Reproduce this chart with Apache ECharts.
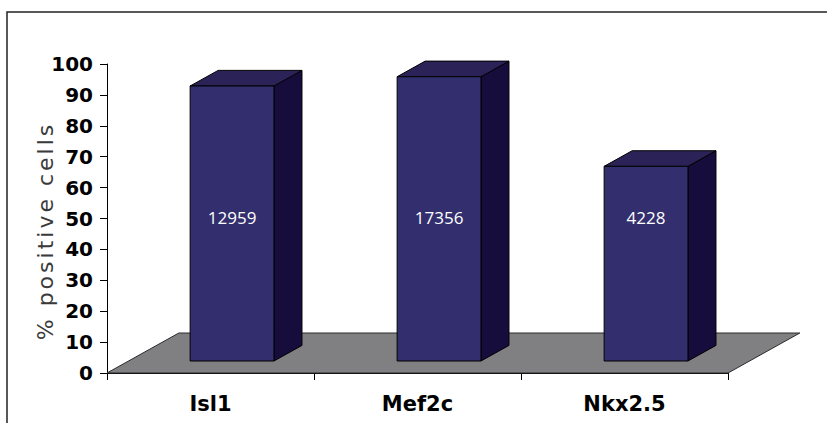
<!DOCTYPE html>
<html>
<head>
<meta charset="utf-8">
<script src="https://cdn.jsdelivr.net/npm/echarts@6/dist/echarts.min.js"></script>
<style>
  html, body { margin: 0; padding: 0; background: #ffffff; }
  #chart { width: 827px; height: 423px; }
  /* Excel-style letter spaced axis title */
  #chart text[style*="Verdana"] { letter-spacing: 3px; }
</style>
</head>
<body>
<div id="chart"></div>
<script>
// ---- data ----
const categories = ['Isl1', 'Mef2c', 'Nkx2.5'];
const percentPositive = [89, 92, 63];
const cellCounts = ['12959', '17356', '4228'];
const yMin = 0;
const yMax = 100;
const yInterval = 10;
const yTitle = '% positive cells';

// ---- chart ----
const chart = echarts.init(document.getElementById('chart'), null, { renderer: 'svg' });

const FRONT = 0.30, BACK = 0.69;   // bar position inside floor depth
const DEPTH_X_RATIO = 0.347;       // floor depth relative to band width
const DEPTH_Y = 40;

function floorItem(params, api) {
  const cs = params.coordSys;
  const band = api.size([1, 0])[0];
  const dx = band * DEPTH_X_RATIO;
  const x0 = cs.x, y0 = cs.y + cs.height, w = cs.width;
  return {
    type: 'polygon',
    shape: { points: [[x0, y0], [x0 + w, y0], [x0 + w + dx, y0 - DEPTH_Y], [x0 + dx, y0 - DEPTH_Y]] },
    style: { fill: '#808083', stroke: '#2a2a2a', lineWidth: 1 }
  };
}

function barItem(params, api) {
  const idx = api.value(0);
  const v = api.value(1);
  const base = api.coord([idx, 0]);
  const top = api.coord([idx, v]);
  const mid = api.coord([idx, 50]);
  const band = api.size([1, 0])[0];
  const dX = band * DEPTH_X_RATIO;
  const fw = band * 0.405;
  const cx = base[0] + FRONT * dX;
  const L = cx - fw / 2, R = cx + fw / 2;
  const yb = base[1] - FRONT * DEPTH_Y;
  const yt = top[1] - FRONT * DEPTH_Y;
  const ex = (BACK - FRONT) * dX, ey = (BACK - FRONT) * DEPTH_Y;
  const edge = { stroke: '#000000', lineWidth: 1, lineJoin: 'round' };
  return {
    type: 'group',
    children: [
      { type: 'polygon', shape: { points: [[R, yt], [R + ex, yt - ey], [R + ex, yb - ey], [R, yb]] },
        style: Object.assign({ fill: '#170d3d' }, edge) },
      { type: 'polygon', shape: { points: [[L, yt], [R, yt], [R + ex, yt - ey], [L + ex, yt - ey]] },
        style: Object.assign({ fill: '#2b2358' }, edge) },
      { type: 'rect', shape: { x: L, y: yt, width: fw, height: yb - yt },
        style: Object.assign({ fill: '#332f6e' }, edge) },
      { type: 'text', x: cx, y: mid[1] - 1,
        style: { text: cellCounts[idx], fill: '#ffffff', fontSize: 17, fontFamily: 'Open Sans',
                 align: 'center', verticalAlign: 'middle' } }
    ]
  };
}

const option = {
  backgroundColor: '#ffffff',
  animation: false,
  grid: { left: 107, right: 99, top: 64, bottom: 50, containLabel: false, outerBoundsMode: 'none' },
  xAxis: {
    type: 'category',
    data: categories,
    boundaryGap: true,
    axisLine: { show: true, lineStyle: { color: '#000000', width: 1 } },
    axisTick: { show: true, length: 7, lineStyle: { color: '#000000', width: 1 } },
    axisLabel: { margin: 20, color: '#000000', fontSize: 21, fontWeight: 'bold', fontFamily: 'DejaVu Sans' },
    splitLine: { show: false }
  },
  yAxis: {
    type: 'value',
    min: yMin, max: yMax, interval: yInterval,
    axisLine: { show: true, lineStyle: { color: '#000000', width: 1 } },
    axisTick: { show: true, length: 7, lineStyle: { color: '#000000', width: 1 } },
    axisLabel: { margin: 14, color: '#000000', fontSize: 20, fontWeight: 'bold', fontFamily: 'DejaVu Sans' },
    splitLine: { show: false }
  },
  graphic: [
    { type: 'rect', shape: { x: 7, y: 12, width: 900, height: 500 },
      style: { fill: 'none', stroke: '#222222', lineWidth: 1.5 }, z: -10, silent: true },
    { type: 'text', x: 45, y: 231, rotation: Math.PI / 2,
      style: { text: yTitle, fill: '#3a3a3a', fontSize: 22, fontFamily: 'Verdana, DejaVu Sans',
               align: 'center', verticalAlign: 'middle', textAlign: 'center', textVerticalAlign: 'middle' } }
  ],
  series: [
    { type: 'custom', name: 'floor', renderItem: floorItem, data: [0], clip: false, z: 1, silent: true },
    { type: 'custom', name: '% positive cells', renderItem: barItem, clip: false, z: 3,
      encode: { x: 0, y: 1 },
      data: categories.map((c, i) => [i, percentPositive[i]]) }
  ]
};
chart.setOption(option);
</script>
</body>
</html>
